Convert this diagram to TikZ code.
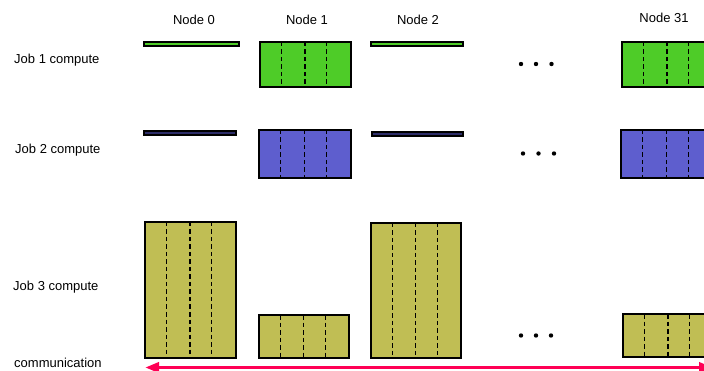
\documentclass[tikz,border=0pt]{standalone}
\usepackage{fontspec}
\setmainfont{Liberation Sans}
\usetikzlibrary{arrows.meta,calc}
\definecolor{jgreen}{RGB}{78,204,40}
\definecolor{jblue}{RGB}{94,94,206}
\definecolor{jolive}{RGB}{192,190,84}
\definecolor{jbarblue}{RGB}{45,45,105}
\definecolor{commred}{RGB}{255,0,85}
\newcommand\splitbox[1]{\foreach \f in {0.235,0.495,0.735} \draw[divider] ($(#1.north west)!\f!(#1.north east)$) -- ($(#1.south west)!\f!(#1.south east)$);}
\begin{document}
\begin{tikzpicture}[x=1pt,y=-1pt,
 box/.style={draw=black,line width=1.6pt,rectangle,inner sep=0pt,outer sep=0pt,anchor=north west},
 bar/.style={draw=black,line width=1.2pt,rectangle,inner sep=0pt,outer sep=0pt,anchor=north west,minimum height=4pt},
 lbl/.style={font=\fontsize{13}{15}\selectfont,inner sep=0pt},
 dotc/.style={circle,fill=black,inner sep=0pt,minimum size=4.4pt},
 divider/.style={dash pattern=on 4.5pt off 3pt,line width=1.2pt,black}]
\useasboundingbox (0,0) rectangle (704,371);
\clip (0,0) rectangle (704,371);
% header labels
\node[lbl] (h0) at (194,20) {Node 0};
\node[lbl] (h1) at (307,20) {Node 1};
\node[lbl] (h2) at (418,20) {Node 2};
\node[lbl] (h31) at (664,18) {Node 31};
% row labels
\node[lbl,anchor=west] (r1) at (14,60) {Job 1 compute};
\node[lbl,anchor=west] (r2) at (15,150) {Job 2 compute};
\node[lbl,anchor=west] (r3) at (13,287) {Job 3 compute};
\node[lbl,anchor=west] (r4) at (14,363) {communication};
% Job 1
\node[bar,fill=jgreen,minimum width=95pt] (a0) at (144,42) {};
\node[box,fill=jgreen,minimum width=91pt,minimum height=45pt] (a1) at (260,42) {};
\node[bar,fill=jgreen,minimum width=92pt] (a2) at (371,42) {};
\node[box,fill=jgreen,minimum width=91pt,minimum height=45pt] (a31) at (622,42) {};
\splitbox{a1}\splitbox{a31}
% Job 2
\node[bar,fill=jbarblue,minimum width=92pt] (b0) at (144,131) {};
\node[box,fill=jblue,minimum width=92pt,minimum height=48pt] (b1) at (259,130) {};
\node[bar,fill=jbarblue,minimum width=91pt] (b2) at (372,132) {};
\node[box,fill=jblue,minimum width=92pt,minimum height=48pt] (b31) at (621,130) {};
\splitbox{b1}\splitbox{b31}
% Job 3
\node[box,fill=jolive,minimum width=91pt,minimum height=136pt] (c0) at (145,222) {};
\node[box,fill=jolive,minimum width=90pt,minimum height=43pt] (c1) at (259,315) {};
\node[box,fill=jolive,minimum width=90pt,minimum height=135pt] (c2) at (371,223) {};
\node[box,fill=jolive,minimum width=91pt,minimum height=43pt] (c31) at (623,314) {};
\splitbox{c0}\splitbox{c1}\splitbox{c2}\splitbox{c31}
% ellipses
\node[dotc] (d11) at (521,64) {};
\node[dotc] (d12) at (536,64) {};
\node[dotc] (d13) at (551.5,64) {};
\node[dotc] (d21) at (523,153.5) {};
\node[dotc] (d22) at (538.5,153.5) {};
\node[dotc] (d23) at (554,153.5) {};
\node[dotc] (d31) at (521,335.5) {};
\node[dotc] (d32) at (536,335.5) {};
\node[dotc] (d33) at (551,335.5) {};
% communication arrow
\coordinate (cl) at (145,367.5);
\coordinate (cr) at (713,367.5);
\draw[commred,line width=3.8pt,{Triangle[length=14pt,width=10pt]}-{Triangle[length=14pt,width=10pt]}] (cl) -- (cr);
\end{tikzpicture}
\end{document}
